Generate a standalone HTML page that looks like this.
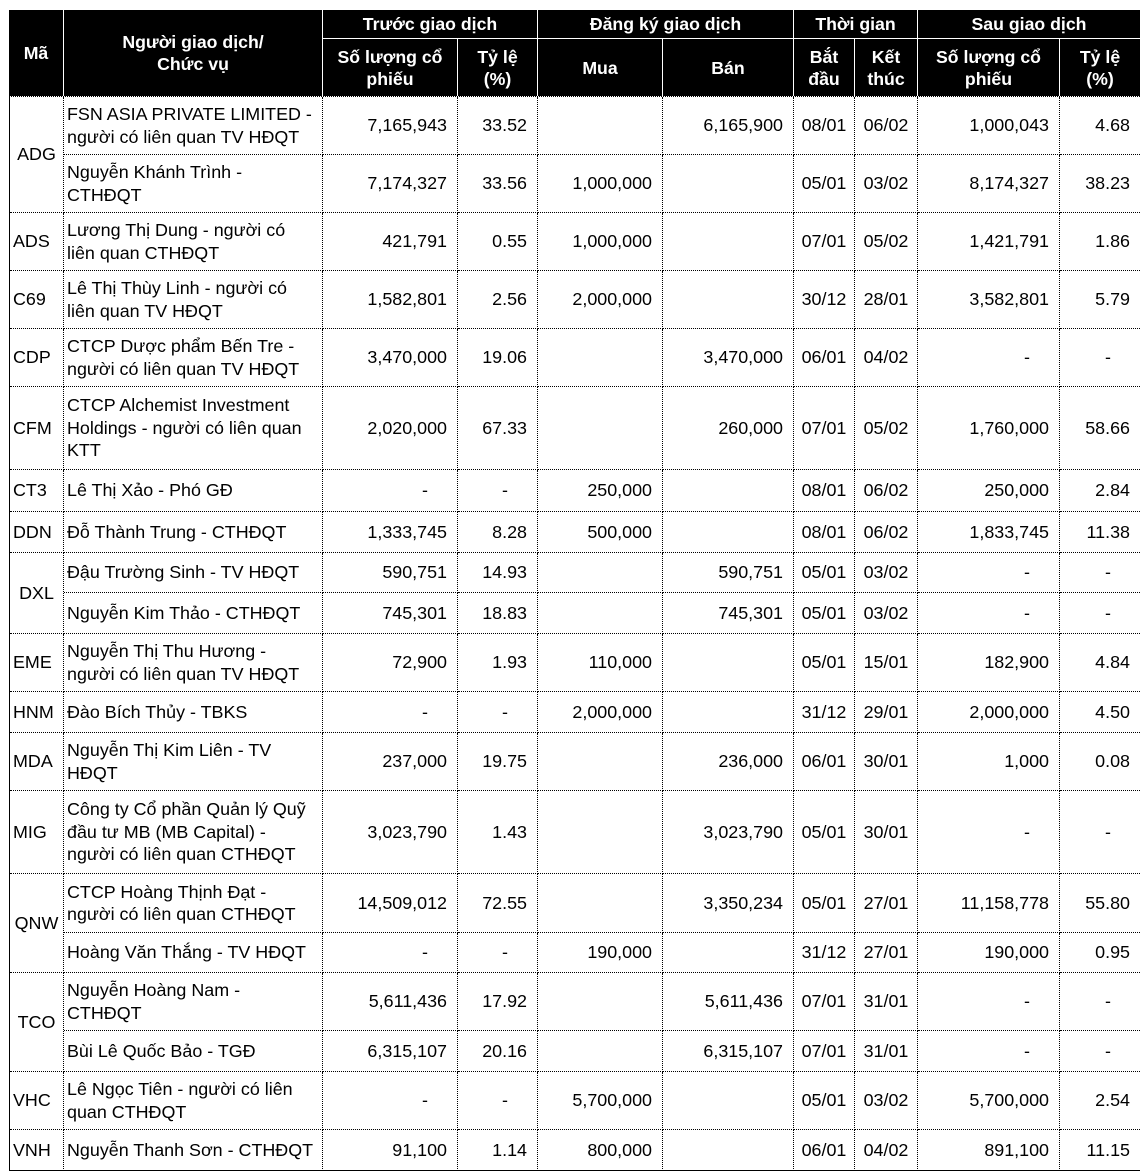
<!DOCTYPE html>
<html><head><meta charset="utf-8">
<style>
html,body{margin:0;padding:0;background:#fff;}
body{width:1140px;height:1171px;position:relative;overflow:hidden;font-family:"Liberation Sans",Arial,"Noto Sans CJK SC",sans-serif;font-size:17.9px;color:#000;}
.hdr{position:absolute;left:9px;top:10px;width:1131px;height:86px;background:#000;}
.ht{position:absolute;color:#fff;font-weight:bold;font-size:17.7px;display:flex;align-items:center;justify-content:center;text-align:center;line-height:22px;white-space:nowrap;}
.wl{position:absolute;background:#fff;}
.r{position:absolute;left:0;width:1140px;}
.c{position:absolute;top:0;height:100%;box-sizing:border-box;border-right:1px dotted #000;border-bottom:1px dotted #000;display:flex;align-items:center;white-space:nowrap;line-height:22.5px;background:#fff;}
.a{left:10px;width:54px;padding-left:3px;}
.am{justify-content:center;padding-left:0;}
.b{left:64px;width:259px;padding-left:3px;}
.d{left:323px;width:135px;justify-content:flex-end;padding-right:10px;}
.e{left:458px;width:80px;justify-content:flex-end;padding-right:10px;}
.f{left:538px;width:125px;justify-content:flex-end;padding-right:10px;}
.g{left:663px;width:131px;justify-content:flex-end;padding-right:10px;}
.h{left:794px;width:61px;justify-content:center;}
.i{left:855px;width:63px;justify-content:center;}
.j{left:918px;width:142px;justify-content:flex-end;padding-right:10px;}
.k{left:1060px;width:80px;justify-content:flex-end;padding-right:10px;border-right:none;}
.dash{padding-right:29px;}
.sl{position:absolute;background:#000;}
</style></head><body>

<div class="hdr"></div>
<div class="ht" style="left:9px;top:10px;width:54px;height:86px;">Mã</div>
<div class="ht" style="left:64px;top:10px;width:258px;height:86px;">Người giao dịch/<br>Chức vụ</div>
<div class="ht" style="left:323px;top:10px;width:214px;height:28px;">Trước giao dịch</div>
<div class="ht" style="left:538px;top:10px;width:255px;height:28px;">Đăng ký giao dịch</div>
<div class="ht" style="left:794px;top:10px;width:123px;height:28px;">Thời gian</div>
<div class="ht" style="left:918px;top:10px;width:222px;height:28px;">Sau giao dịch</div>
<div class="ht" style="left:323px;top:39px;width:134px;height:57px;">Số lượng cổ<br>phiếu</div>
<div class="ht" style="left:458px;top:39px;width:79px;height:57px;">Tỷ lệ<br>(%)</div>
<div class="ht" style="left:538px;top:39px;width:124px;height:57px;">Mua</div>
<div class="ht" style="left:663px;top:39px;width:130px;height:57px;">Bán</div>
<div class="ht" style="left:794px;top:39px;width:60px;height:57px;">Bắt<br>đầu</div>
<div class="ht" style="left:855px;top:39px;width:62px;height:57px;">Kết<br>thúc</div>
<div class="ht" style="left:918px;top:39px;width:141px;height:57px;">Số lượng cổ<br>phiếu</div>
<div class="ht" style="left:1060px;top:39px;width:80px;height:57px;">Tỷ lệ<br>(%)</div>

<div class="wl" style="left:63px;top:10px;width:1px;height:86px;"></div>
<div class="wl" style="left:322px;top:10px;width:1px;height:86px;"></div>
<div class="wl" style="left:537px;top:10px;width:1px;height:86px;"></div>
<div class="wl" style="left:793px;top:10px;width:1px;height:86px;"></div>
<div class="wl" style="left:917px;top:10px;width:1px;height:86px;"></div>
<div class="wl" style="left:322px;top:38px;width:818px;height:1px;"></div>
<div class="wl" style="left:457px;top:38px;width:1px;height:58px;"></div>
<div class="wl" style="left:662px;top:38px;width:1px;height:58px;"></div>
<div class="wl" style="left:854px;top:38px;width:1px;height:58px;"></div>
<div class="wl" style="left:1059px;top:38px;width:1px;height:58px;"></div>

<div class="r" style="top:97px;height:58px;">
<div class="c a am" style="height:116px;">ADG</div>
<div class="c b">FSN ASIA PRIVATE LIMITED -<br>người có liên quan TV HĐQT</div>
<div class="c d">7,165,943</div><div class="c e">33.52</div><div class="c f"></div><div class="c g">6,165,900</div>
<div class="c h">08/01</div><div class="c i">06/02</div><div class="c j">1,000,043</div><div class="c k">4.68</div>
</div>
<div class="r" style="top:155px;height:58px;">
<div class="c b">Nguyễn Khánh Trình -<br>CTHĐQT</div>
<div class="c d">7,174,327</div><div class="c e">33.56</div><div class="c f">1,000,000</div><div class="c g"></div>
<div class="c h">05/01</div><div class="c i">03/02</div><div class="c j">8,174,327</div><div class="c k">38.23</div>
</div>
<div class="r" style="top:213px;height:58px;">
<div class="c a">ADS</div>
<div class="c b">Lương Thị Dung - người có<br>liên quan CTHĐQT</div>
<div class="c d">421,791</div><div class="c e">0.55</div><div class="c f">1,000,000</div><div class="c g"></div>
<div class="c h">07/01</div><div class="c i">05/02</div><div class="c j">1,421,791</div><div class="c k">1.86</div>
</div>
<div class="r" style="top:271px;height:58px;">
<div class="c a">C69</div>
<div class="c b">Lê Thị Thùy Linh - người có<br>liên quan TV HĐQT</div>
<div class="c d">1,582,801</div><div class="c e">2.56</div><div class="c f">2,000,000</div><div class="c g"></div>
<div class="c h">30/12</div><div class="c i">28/01</div><div class="c j">3,582,801</div><div class="c k">5.79</div>
</div>
<div class="r" style="top:329px;height:58px;">
<div class="c a">CDP</div>
<div class="c b">CTCP Dược phẩm Bến Tre -<br>người có liên quan TV HĐQT</div>
<div class="c d">3,470,000</div><div class="c e">19.06</div><div class="c f"></div><div class="c g">3,470,000</div>
<div class="c h">06/01</div><div class="c i">04/02</div><div class="c j dash">-</div><div class="c k dash">-</div>
</div>
<div class="r" style="top:387px;height:83px;">
<div class="c a">CFM</div>
<div class="c b">CTCP Alchemist Investment<br>Holdings - người có liên quan<br>KTT</div>
<div class="c d">2,020,000</div><div class="c e">67.33</div><div class="c f"></div><div class="c g">260,000</div>
<div class="c h">07/01</div><div class="c i">05/02</div><div class="c j">1,760,000</div><div class="c k">58.66</div>
</div>
<div class="r" style="top:470px;height:42px;">
<div class="c a">CT3</div>
<div class="c b">Lê Thị Xảo - Phó GĐ</div>
<div class="c d dash">-</div><div class="c e dash">-</div><div class="c f">250,000</div><div class="c g"></div>
<div class="c h">08/01</div><div class="c i">06/02</div><div class="c j">250,000</div><div class="c k">2.84</div>
</div>
<div class="r" style="top:512px;height:41px;">
<div class="c a">DDN</div>
<div class="c b">Đỗ Thành Trung - CTHĐQT</div>
<div class="c d">1,333,745</div><div class="c e">8.28</div><div class="c f">500,000</div><div class="c g"></div>
<div class="c h">08/01</div><div class="c i">06/02</div><div class="c j">1,833,745</div><div class="c k">11.38</div>
</div>
<div class="r" style="top:553px;height:40px;">
<div class="c a am" style="height:81px;">DXL</div>
<div class="c b">Đậu Trường Sinh - TV HĐQT</div>
<div class="c d">590,751</div><div class="c e">14.93</div><div class="c f"></div><div class="c g">590,751</div>
<div class="c h">05/01</div><div class="c i">03/02</div><div class="c j dash">-</div><div class="c k dash">-</div>
</div>
<div class="r" style="top:593px;height:41px;">
<div class="c b">Nguyễn Kim Thảo - CTHĐQT</div>
<div class="c d">745,301</div><div class="c e">18.83</div><div class="c f"></div><div class="c g">745,301</div>
<div class="c h">05/01</div><div class="c i">03/02</div><div class="c j dash">-</div><div class="c k dash">-</div>
</div>
<div class="r" style="top:634px;height:58px;">
<div class="c a">EME</div>
<div class="c b">Nguyễn Thị Thu Hương -<br>người có liên quan TV HĐQT</div>
<div class="c d">72,900</div><div class="c e">1.93</div><div class="c f">110,000</div><div class="c g"></div>
<div class="c h">05/01</div><div class="c i">15/01</div><div class="c j">182,900</div><div class="c k">4.84</div>
</div>
<div class="r" style="top:692px;height:41px;">
<div class="c a">HNM</div>
<div class="c b">Đào Bích Thủy - TBKS</div>
<div class="c d dash">-</div><div class="c e dash">-</div><div class="c f">2,000,000</div><div class="c g"></div>
<div class="c h">31/12</div><div class="c i">29/01</div><div class="c j">2,000,000</div><div class="c k">4.50</div>
</div>
<div class="r" style="top:733px;height:58px;">
<div class="c a">MDA</div>
<div class="c b">Nguyễn Thị Kim Liên - TV<br>HĐQT</div>
<div class="c d">237,000</div><div class="c e">19.75</div><div class="c f"></div><div class="c g">236,000</div>
<div class="c h">06/01</div><div class="c i">30/01</div><div class="c j">1,000</div><div class="c k">0.08</div>
</div>
<div class="r" style="top:791px;height:83px;">
<div class="c a">MIG</div>
<div class="c b">Công ty Cổ phần Quản lý Quỹ<br>đầu tư MB (MB Capital) -<br>người có liên quan CTHĐQT</div>
<div class="c d">3,023,790</div><div class="c e">1.43</div><div class="c f"></div><div class="c g">3,023,790</div>
<div class="c h">05/01</div><div class="c i">30/01</div><div class="c j dash">-</div><div class="c k dash">-</div>
</div>
<div class="r" style="top:874px;height:59px;">
<div class="c a am" style="height:99px;">QNW</div>
<div class="c b">CTCP Hoàng Thịnh Đạt -<br>người có liên quan CTHĐQT</div>
<div class="c d">14,509,012</div><div class="c e">72.55</div><div class="c f"></div><div class="c g">3,350,234</div>
<div class="c h">05/01</div><div class="c i">27/01</div><div class="c j">11,158,778</div><div class="c k">55.80</div>
</div>
<div class="r" style="top:933px;height:40px;">
<div class="c b">Hoàng Văn Thắng - TV HĐQT</div>
<div class="c d dash">-</div><div class="c e dash">-</div><div class="c f">190,000</div><div class="c g"></div>
<div class="c h">31/12</div><div class="c i">27/01</div><div class="c j">190,000</div><div class="c k">0.95</div>
</div>
<div class="r" style="top:973px;height:58px;">
<div class="c a am" style="height:99px;">TCO</div>
<div class="c b">Nguyễn Hoàng Nam -<br>CTHĐQT</div>
<div class="c d">5,611,436</div><div class="c e">17.92</div><div class="c f"></div><div class="c g">5,611,436</div>
<div class="c h">07/01</div><div class="c i">31/01</div><div class="c j dash">-</div><div class="c k dash">-</div>
</div>
<div class="r" style="top:1031px;height:41px;">
<div class="c b">Bùi Lê Quốc Bảo - TGĐ</div>
<div class="c d">6,315,107</div><div class="c e">20.16</div><div class="c f"></div><div class="c g">6,315,107</div>
<div class="c h">07/01</div><div class="c i">31/01</div><div class="c j dash">-</div><div class="c k dash">-</div>
</div>
<div class="r" style="top:1072px;height:58px;">
<div class="c a">VHC</div>
<div class="c b">Lê Ngọc Tiên - người có liên<br>quan CTHĐQT</div>
<div class="c d dash">-</div><div class="c e dash">-</div><div class="c f">5,700,000</div><div class="c g"></div>
<div class="c h">05/01</div><div class="c i">03/02</div><div class="c j">5,700,000</div><div class="c k">2.54</div>
</div>
<div class="r" style="top:1130px;height:41px;">
<div class="c a">VNH</div>
<div class="c b">Nguyễn Thanh Sơn - CTHĐQT</div>
<div class="c d">91,100</div><div class="c e">1.14</div><div class="c f">800,000</div><div class="c g"></div>
<div class="c h">06/01</div><div class="c i">04/02</div><div class="c j">891,100</div><div class="c k">11.15</div>
</div>

<div style="position:absolute;left:9px;top:96px;width:1131px;height:0;border-top:1px dotted #000;"></div>
<div class="sl" style="left:9px;top:96px;width:1px;height:1075px;"></div>
<div class="sl" style="left:9px;top:1170px;width:1131px;height:1px;"></div>
</body></html>
